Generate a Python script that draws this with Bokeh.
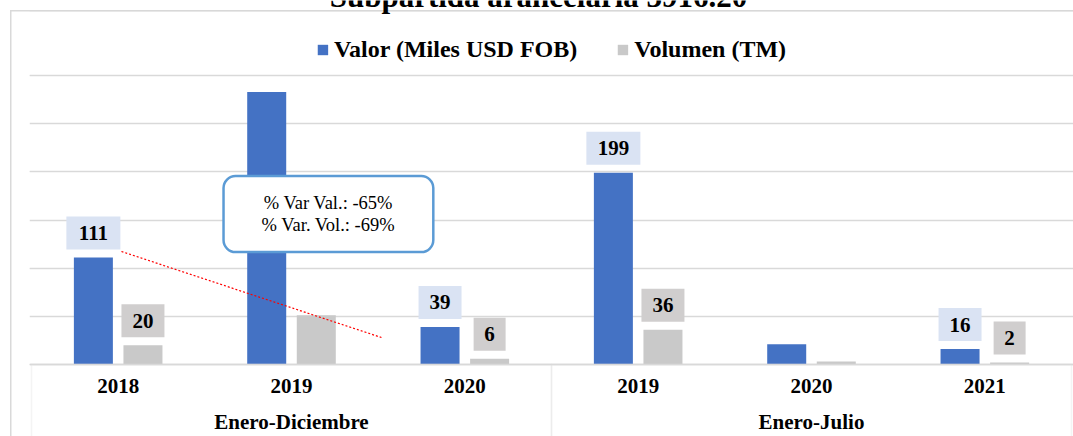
from bokeh.plotting import figure
from bokeh.models import (FactorRange, ColumnDataSource, Label, BoxAnnotation, Legend,
                          LegendItem, FixedTicker, Range1d, Grid)
from bokeh.transform import dodge
from bokeh.core.properties import value
from bokeh.embed import file_html
from bokeh.resources import INLINE

# ---------------- data ----------------
title_text = "Subpartida arancelaria 3916.20"
periods = ["Enero-Diciembre", "Enero-Diciembre", "Enero-Diciembre",
           "Enero-Julio", "Enero-Julio", "Enero-Julio"]
years = ["2018", "2019", "2020", "2019", "2020", "2021"]
valor = [111, 283, 39, 199, 21, 16]
volumen = [20, 51, 6, 36, 3, 2]
valor_shown = [True, False, True, True, False, True]
volumen_shown = [True, False, True, True, False, True]
series_names = ["Valor (Miles USD FOB)", "Volumen (TM)"]
grid_ticks = [0, 50, 100, 150, 200, 250, 300]
callout_lines = ["% Var Val.: -65%", "% Var. Vol.: -69%"]

# ---------------- layout ----------------
W, H = 1073, 436
FRAME_L = 29                      # frame starts here; categories start 2px further
CAT_PAD_PX = 2
BASE_Y = 364                      # pixel row of the value 0
TOP_PX = 289                      # pixels spanned by 0..300
PPU = TOP_PX / grid_ticks[-1]
CAT_PX = (W - FRAME_L - 2 * CAT_PAD_PX) / len(years)
Y_END = BASE_Y / PPU
Y_MIN = -(H - BASE_Y) / PPU

BLUE = "#4472C4"
GRAY = "#C9C9C9"
GRID = "#D9D9D9"
SERIF = "Liberation Serif"
OFF = 0.143
BW = 0.225

factors = list(zip(periods, years))
src = ColumnDataSource(dict(x=factors, valor=valor, volumen=volumen))

p = figure(width=W, height=H,
           x_range=FactorRange(*factors, factor_padding=0, group_padding=0,
                               subgroup_padding=0, range_padding=CAT_PAD_PX / CAT_PX,
                               range_padding_units="absolute"),
           y_range=Range1d(Y_MIN, Y_END),
           y_axis_location=None,
           output_backend="svg", toolbar_location=None,
           min_border_left=FRAME_L, min_border_right=0,
           min_border_top=0, min_border_bottom=0)
p.outline_line_color = None
p.background_fill_color = None
p.border_fill_color = None
p.styles = {
    "background": ("linear-gradient(#D9D9D9, #D9D9D9) 10px 10px / 1.5px 100% no-repeat, "
                   "linear-gradient(#D9D9D9, #D9D9D9) 10px 10px / 100% 1.5px no-repeat, "
                   "#ffffff"),
}
p.xgrid.grid_line_color = None

p.add_layout(Grid(dimension=1, ticker=FixedTicker(ticks=grid_ticks),
                  grid_line_color=GRID, grid_line_width=1.5))

# outer chart border (the part that falls inside the plotting area)
p.add_layout(BoxAnnotation(left=-21 / CAT_PX, right=6.6, top=(BASE_Y - 10.5) / PPU,
                           bottom=Y_MIN - 50, fill_color=None, fill_alpha=0,
                           line_color=GRID, line_width=1.5))
# category boxes below the baseline
for lo, hi in [(0, 3), (3, 6)]:
    p.add_layout(BoxAnnotation(left=lo, right=hi, top=0, bottom=Y_MIN - 50,
                               fill_color=None, fill_alpha=0, line_color=GRID,
                               line_width=1.5))

r1 = p.vbar(x=dodge("x", -OFF, range=p.x_range), top="valor", width=BW, source=src,
            fill_color=BLUE, line_color=None)
r2 = p.vbar(x=dodge("x", OFF, range=p.x_range), top="volumen", width=BW, source=src,
            fill_color=GRAY, line_color=None)

LAB_GAP = 24.5 / PPU


def label_source(vals, shown):
    xs, ys, ts, ws = [], [], [], []
    for f, v, s in zip(factors, vals, shown):
        if s:
            t = str(v)
            xs.append(f)
            ys.append(v + LAB_GAP)
            ts.append(t)
            ws.append(11 * len(t) + 21)
    return ColumnDataSource(dict(x=xs, y=ys, t=ts, w=ws))


for vals, shown, off, col in [(valor, valor_shown, -OFF, "#DAE3F3"),
                              (volumen, volumen_shown, OFF, "#D0CECE")]:
    ls = label_source(vals, shown)
    p.rect(x=dodge("x", off, range=p.x_range), y="y", width="w", height=33,
           width_units="screen", height_units="screen", source=ls,
           fill_color=col, line_color=None)
    p.text(x=dodge("x", off, range=p.x_range), y="y", text="t", source=ls,
           text_align="center", text_baseline="middle",
           text_font=value(SERIF), text_font_style="bold", text_font_size="21px",
           text_color="black")

# red dotted connector
p.segment(x0=[0.519], y0=[117.3], x1=[2.019], y1=[28.0], line_color="red",
          line_dash="2 2", line_width=1.2)

# callout
p.add_layout(Label(x=1.713, y=156.2, text="\n".join(callout_lines),
                   text_font=SERIF, text_font_size="18.5px", text_align="center",
                   text_baseline="middle", text_line_height=1.1, text_color="black",
                   background_fill_color="white", border_line_color="#5B9BD5",
                   border_line_width=2.5, border_radius=12, padding=(38, 17)))

# title (mostly above the visible area, as in the original)
p.add_layout(Label(x=2.925, y=(BASE_Y + 4) / PPU, text=title_text,
                   text_font=SERIF, text_font_style="bold", text_font_size="31px",
                   text_align="center", text_baseline="alphabetic", text_color="black"))

legend = Legend(items=[LegendItem(label=series_names[0], renderers=[r1]),
                       LegendItem(label=series_names[1], renderers=[r2])],
                orientation="horizontal", location="top_center",
                label_text_font=SERIF, label_text_font_style="bold",
                label_text_font_size="24px", label_text_color="black",
                glyph_width=13, glyph_height=13, label_standoff=5, spacing=39,
                padding=0, margin=36, border_line_color=None,
                background_fill_alpha=0)
p.add_layout(legend, "center")

ax = p.xaxis[0]
ax.fixed_location = 0
ax.axis_line_color = GRID
ax.axis_line_width = 1.5
ax.major_tick_line_color = None
ax.minor_tick_line_color = None
ax.major_tick_out = 0
ax.major_tick_in = 0
ax.major_label_standoff = 14
ax.major_label_text_font = SERIF
ax.major_label_text_font_style = "bold"
ax.major_label_text_font_size = "21px"
ax.major_label_text_color = "black"
ax.group_text_font = SERIF
ax.group_text_font_style = "bold"
ax.group_text_font_size = "21px"
ax.group_text_color = "black"
ax.separator_line_color = None

open("out.html", "w").write(file_html(p, INLINE))
